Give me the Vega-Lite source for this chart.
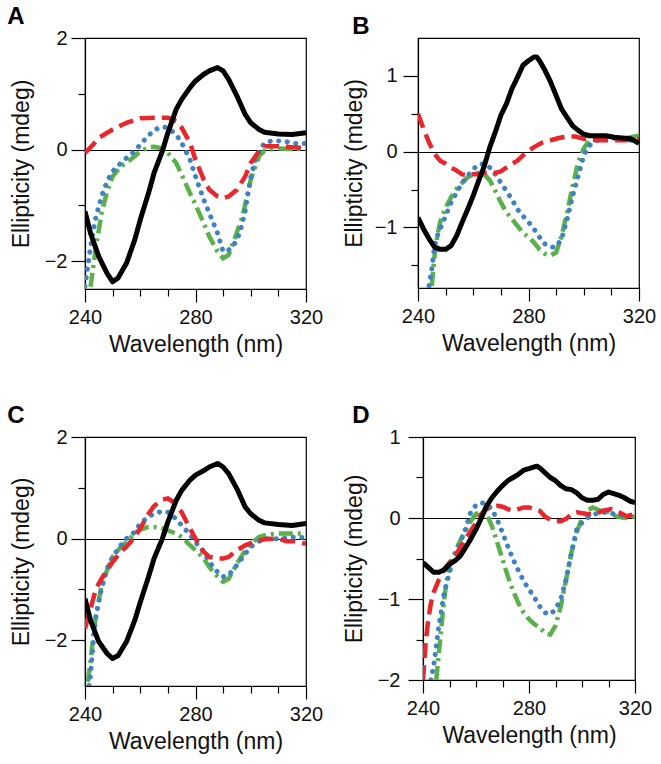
{
  "$schema": "https://vega.github.io/schema/vega-lite/v6.json",
  "padding": {"left": 6, "top": 4, "right": 0, "bottom": 0},
  "background": "white",
  "config": {
    "font": "Liberation Sans",
    "view": {"stroke": "black", "strokeWidth": 1.2},
    "axis": {"grid": false, "domainColor": "black", "domainWidth": 1.2, "tickColor": "black", "tickWidth": 1.2, "labelColor": "#111", "titleColor": "#111", "labelFontSize": 20, "titleFontSize": 23, "titleFontWeight": "normal", "labelFlush": false, "labelOverlap": false},
    "title": {"fontSize": 24, "fontWeight": "bold", "color": "black", "anchor": "start"}
  },
  "datasets": {
    "A": [
      {"s":"k","x":240,"y":-1.11},{"s":"k","x":242,"y":-1.5},{"s":"k","x":245,"y":-1.92},{"s":"k","x":248,"y":-2.22},{"s":"k","x":250,"y":-2.37},{"s":"k","x":252,"y":-2.3},{"s":"k","x":255,"y":-2.04},{"s":"k","x":258,"y":-1.62},{"s":"k","x":260,"y":-1.26},{"s":"k","x":263,"y":-0.78},{"s":"k","x":265,"y":-0.42},{"s":"k","x":268,"y":-0.03},{"s":"k","x":270,"y":0.3},{"s":"k","x":273,"y":0.72},{"s":"k","x":275,"y":0.9},{"s":"k","x":278,"y":1.11},{"s":"k","x":280,"y":1.23},{"s":"k","x":283,"y":1.35},{"s":"k","x":285,"y":1.41},{"s":"k","x":288,"y":1.47},{"s":"k","x":290,"y":1.41},{"s":"k","x":292,"y":1.26},{"s":"k","x":295,"y":0.96},{"s":"k","x":298,"y":0.63},{"s":"k","x":300,"y":0.48},{"s":"k","x":303,"y":0.36},{"s":"k","x":305,"y":0.31},{"s":"k","x":310,"y":0.28},{"s":"k","x":315,"y":0.27},{"s":"k","x":320,"y":0.3},
      {"s":"r","x":240,"y":-0.06},{"s":"r","x":243,"y":0.09},{"s":"r","x":245,"y":0.21},{"s":"r","x":250,"y":0.36},{"s":"r","x":255,"y":0.48},{"s":"r","x":260,"y":0.56},{"s":"r","x":265,"y":0.57},{"s":"r","x":270,"y":0.57},{"s":"r","x":273,"y":0.51},{"s":"r","x":275,"y":0.39},{"s":"r","x":278,"y":0.12},{"s":"r","x":280,"y":-0.18},{"s":"r","x":283,"y":-0.54},{"s":"r","x":285,"y":-0.72},{"s":"r","x":288,"y":-0.84},{"s":"r","x":290,"y":-0.87},{"s":"r","x":292,"y":-0.84},{"s":"r","x":295,"y":-0.72},{"s":"r","x":298,"y":-0.48},{"s":"r","x":300,"y":-0.24},{"s":"r","x":303,"y":-0.03},{"s":"r","x":305,"y":0.06},{"s":"r","x":310,"y":0.06},{"s":"r","x":315,"y":0.04},{"s":"r","x":320,"y":0.03},
      {"s":"b","x":240,"y":-2.45},{"s":"b","x":241,"y":-2.1},{"s":"b","x":242,"y":-1.75},{"s":"b","x":243,"y":-1.45},{"s":"b","x":244,"y":-1.2},{"s":"b","x":246,"y":-0.84},{"s":"b","x":248,"y":-0.57},{"s":"b","x":250,"y":-0.39},{"s":"b","x":253,"y":-0.24},{"s":"b","x":255,"y":-0.15},{"s":"b","x":258,"y":-0.03},{"s":"b","x":260,"y":0.09},{"s":"b","x":263,"y":0.25},{"s":"b","x":265,"y":0.35},{"s":"b","x":268,"y":0.41},{"s":"b","x":270,"y":0.39},{"s":"b","x":273,"y":0.27},{"s":"b","x":275,"y":0.12},{"s":"b","x":278,"y":-0.18},{"s":"b","x":280,"y":-0.48},{"s":"b","x":283,"y":-0.9},{"s":"b","x":285,"y":-1.14},{"s":"b","x":288,"y":-1.5},{"s":"b","x":290,"y":-1.83},{"s":"b","x":292,"y":-1.8},{"s":"b","x":294,"y":-1.7},{"s":"b","x":296,"y":-1.5},{"s":"b","x":298,"y":-1.1},{"s":"b","x":300,"y":-0.5},{"s":"b","x":302,"y":-0.12},{"s":"b","x":305,"y":0.12},{"s":"b","x":308,"y":0.16},{"s":"b","x":312,"y":0.15},{"s":"b","x":316,"y":0.11},{"s":"b","x":320,"y":0.11},
      {"s":"g","x":242,"y":-2.46},{"s":"g","x":243,"y":-2.1},{"s":"g","x":244,"y":-1.74},{"s":"g","x":246,"y":-1.14},{"s":"g","x":248,"y":-0.75},{"s":"g","x":250,"y":-0.48},{"s":"g","x":253,"y":-0.3},{"s":"g","x":255,"y":-0.24},{"s":"g","x":258,"y":-0.12},{"s":"g","x":260,"y":-0.03},{"s":"g","x":263,"y":0.04},{"s":"g","x":265,"y":0.05},{"s":"g","x":268,"y":0.02},{"s":"g","x":270,"y":-0.06},{"s":"g","x":273,"y":-0.24},{"s":"g","x":275,"y":-0.45},{"s":"g","x":278,"y":-0.78},{"s":"g","x":280,"y":-0.99},{"s":"g","x":283,"y":-1.32},{"s":"g","x":285,"y":-1.56},{"s":"g","x":288,"y":-1.83},{"s":"g","x":290,"y":-1.95},{"s":"g","x":292,"y":-1.89},{"s":"g","x":294,"y":-1.62},{"s":"g","x":297,"y":-1.2},{"s":"g","x":300,"y":-0.54},{"s":"g","x":303,"y":-0.12},{"s":"g","x":305,"y":-0.02},{"s":"g","x":307,"y":0},{"s":"g","x":310,"y":0.02},{"s":"g","x":315,"y":0.01},{"s":"g","x":320,"y":0.01}
    ],
    "B": [
      {"s":"k","x":240,"y":-0.87},{"s":"k","x":242,"y":-1.02},{"s":"k","x":244,"y":-1.15},{"s":"k","x":246,"y":-1.26},{"s":"k","x":248,"y":-1.29},{"s":"k","x":250,"y":-1.29},{"s":"k","x":252,"y":-1.24},{"s":"k","x":254,"y":-1.11},{"s":"k","x":256,"y":-0.93},{"s":"k","x":258,"y":-0.76},{"s":"k","x":260,"y":-0.58},{"s":"k","x":262,"y":-0.38},{"s":"k","x":264,"y":-0.19},{"s":"k","x":266,"y":0.06},{"s":"k","x":268,"y":0.26},{"s":"k","x":270,"y":0.48},{"s":"k","x":272,"y":0.63},{"s":"k","x":274,"y":0.83},{"s":"k","x":276,"y":0.98},{"s":"k","x":278,"y":1.14},{"s":"k","x":280,"y":1.2},{"s":"k","x":282,"y":1.25},{"s":"k","x":283,"y":1.25},{"s":"k","x":284,"y":1.2},{"s":"k","x":286,"y":1.07},{"s":"k","x":288,"y":0.92},{"s":"k","x":290,"y":0.74},{"s":"k","x":292,"y":0.56},{"s":"k","x":294,"y":0.45},{"s":"k","x":296,"y":0.34},{"s":"k","x":298,"y":0.28},{"s":"k","x":300,"y":0.23},{"s":"k","x":302,"y":0.21},{"s":"k","x":305,"y":0.21},{"s":"k","x":308,"y":0.21},{"s":"k","x":311,"y":0.19},{"s":"k","x":314,"y":0.18},{"s":"k","x":317,"y":0.17},{"s":"k","x":320,"y":0.11},
      {"s":"r","x":240,"y":0.5},{"s":"r","x":242,"y":0.3},{"s":"r","x":244,"y":0.12},{"s":"r","x":246,"y":-0.03},{"s":"r","x":248,"y":-0.12},{"s":"r","x":250,"y":-0.16},{"s":"r","x":252,"y":-0.21},{"s":"r","x":254,"y":-0.25},{"s":"r","x":256,"y":-0.3},{"s":"r","x":258,"y":-0.31},{"s":"r","x":260,"y":-0.3},{"s":"r","x":262,"y":-0.3},{"s":"r","x":264,"y":-0.28},{"s":"r","x":266,"y":-0.28},{"s":"r","x":268,"y":-0.28},{"s":"r","x":270,"y":-0.26},{"s":"r","x":272,"y":-0.21},{"s":"r","x":274,"y":-0.16},{"s":"r","x":276,"y":-0.12},{"s":"r","x":278,"y":-0.05},{"s":"r","x":280,"y":0.01},{"s":"r","x":282,"y":0.06},{"s":"r","x":285,"y":0.12},{"s":"r","x":288,"y":0.15},{"s":"r","x":291,"y":0.18},{"s":"r","x":294,"y":0.2},{"s":"r","x":297,"y":0.2},{"s":"r","x":300,"y":0.17},{"s":"r","x":305,"y":0.15},{"s":"r","x":310,"y":0.15},{"s":"r","x":315,"y":0.15},{"s":"r","x":320,"y":0.17},
      {"s":"b","x":244,"y":-1.77},{"s":"b","x":245,"y":-1.55},{"s":"b","x":246,"y":-1.24},{"s":"b","x":247,"y":-1.11},{"s":"b","x":248,"y":-1.02},{"s":"b","x":250,"y":-0.85},{"s":"b","x":252,"y":-0.67},{"s":"b","x":254,"y":-0.54},{"s":"b","x":256,"y":-0.41},{"s":"b","x":258,"y":-0.32},{"s":"b","x":260,"y":-0.23},{"s":"b","x":262,"y":-0.17},{"s":"b","x":264,"y":-0.16},{"s":"b","x":266,"y":-0.21},{"s":"b","x":268,"y":-0.3},{"s":"b","x":270,"y":-0.41},{"s":"b","x":272,"y":-0.52},{"s":"b","x":274,"y":-0.63},{"s":"b","x":276,"y":-0.76},{"s":"b","x":278,"y":-0.85},{"s":"b","x":280,"y":-0.93},{"s":"b","x":282,"y":-1.02},{"s":"b","x":284,"y":-1.13},{"s":"b","x":286,"y":-1.22},{"s":"b","x":288,"y":-1.26},{"s":"b","x":290,"y":-1.26},{"s":"b","x":292,"y":-1.15},{"s":"b","x":294,"y":-0.89},{"s":"b","x":296,"y":-0.58},{"s":"b","x":298,"y":-0.32},{"s":"b","x":300,"y":-0.05},{"s":"b","x":302,"y":0.08},{"s":"b","x":304,"y":0.13},{"s":"b","x":306,"y":0.17},{"s":"b","x":310,"y":0.18},{"s":"b","x":314,"y":0.17},{"s":"b","x":317,"y":0.15},{"s":"b","x":320,"y":0.18},
      {"s":"g","x":245,"y":-1.77},{"s":"g","x":246,"y":-1.37},{"s":"g","x":247,"y":-1.11},{"s":"g","x":248,"y":-0.93},{"s":"g","x":250,"y":-0.74},{"s":"g","x":252,"y":-0.6},{"s":"g","x":254,"y":-0.49},{"s":"g","x":256,"y":-0.41},{"s":"g","x":258,"y":-0.34},{"s":"g","x":260,"y":-0.3},{"s":"g","x":262,"y":-0.28},{"s":"g","x":264,"y":-0.3},{"s":"g","x":266,"y":-0.38},{"s":"g","x":268,"y":-0.52},{"s":"g","x":270,"y":-0.67},{"s":"g","x":272,"y":-0.8},{"s":"g","x":274,"y":-0.89},{"s":"g","x":276,"y":-0.98},{"s":"g","x":278,"y":-1.07},{"s":"g","x":280,"y":-1.13},{"s":"g","x":282,"y":-1.2},{"s":"g","x":284,"y":-1.29},{"s":"g","x":286,"y":-1.35},{"s":"g","x":288,"y":-1.37},{"s":"g","x":290,"y":-1.33},{"s":"g","x":292,"y":-1.11},{"s":"g","x":294,"y":-0.8},{"s":"g","x":296,"y":-0.45},{"s":"g","x":298,"y":-0.14},{"s":"g","x":300,"y":0.04},{"s":"g","x":302,"y":0.15},{"s":"g","x":304,"y":0.19},{"s":"g","x":306,"y":0.21},{"s":"g","x":310,"y":0.2},{"s":"g","x":314,"y":0.17},{"s":"g","x":317,"y":0.19},{"s":"g","x":320,"y":0.21}
    ],
    "C": [
      {"s":"k","x":240,"y":-1.18},{"s":"k","x":242,"y":-1.61},{"s":"k","x":245,"y":-2.03},{"s":"k","x":248,"y":-2.26},{"s":"k","x":250,"y":-2.36},{"s":"k","x":252,"y":-2.3},{"s":"k","x":255,"y":-2.03},{"s":"k","x":258,"y":-1.61},{"s":"k","x":260,"y":-1.25},{"s":"k","x":263,"y":-0.75},{"s":"k","x":265,"y":-0.39},{"s":"k","x":268,"y":0},{"s":"k","x":270,"y":0.33},{"s":"k","x":273,"y":0.75},{"s":"k","x":275,"y":0.95},{"s":"k","x":278,"y":1.15},{"s":"k","x":280,"y":1.25},{"s":"k","x":283,"y":1.34},{"s":"k","x":285,"y":1.41},{"s":"k","x":288,"y":1.48},{"s":"k","x":290,"y":1.41},{"s":"k","x":292,"y":1.28},{"s":"k","x":295,"y":0.98},{"s":"k","x":298,"y":0.62},{"s":"k","x":300,"y":0.49},{"s":"k","x":303,"y":0.36},{"s":"k","x":305,"y":0.31},{"s":"k","x":310,"y":0.28},{"s":"k","x":315,"y":0.26},{"s":"k","x":320,"y":0.3},
      {"s":"r","x":240,"y":-1.77},{"s":"r","x":242,"y":-1.38},{"s":"r","x":244,"y":-0.98},{"s":"r","x":246,"y":-0.79},{"s":"r","x":248,"y":-0.62},{"s":"r","x":250,"y":-0.46},{"s":"r","x":253,"y":-0.26},{"s":"r","x":255,"y":-0.16},{"s":"r","x":258,"y":0.03},{"s":"r","x":260,"y":0.2},{"s":"r","x":263,"y":0.49},{"s":"r","x":265,"y":0.64},{"s":"r","x":268,"y":0.77},{"s":"r","x":270,"y":0.79},{"s":"r","x":272,"y":0.72},{"s":"r","x":275,"y":0.52},{"s":"r","x":278,"y":0.2},{"s":"r","x":280,"y":0},{"s":"r","x":283,"y":-0.26},{"s":"r","x":285,"y":-0.36},{"s":"r","x":288,"y":-0.39},{"s":"r","x":290,"y":-0.39},{"s":"r","x":292,"y":-0.36},{"s":"r","x":295,"y":-0.23},{"s":"r","x":298,"y":-0.13},{"s":"r","x":300,"y":-0.09},{"s":"r","x":305,"y":-0.01},{"s":"r","x":310,"y":0},{"s":"r","x":313,"y":-0.05},{"s":"r","x":316,"y":-0.05},{"s":"r","x":320,"y":-0.1},
      {"s":"b","x":241.5,"y":-2.89},{"s":"b","x":242,"y":-2.69},{"s":"b","x":243,"y":-2.03},{"s":"b","x":244,"y":-1.51},{"s":"b","x":246,"y":-0.98},{"s":"b","x":248,"y":-0.59},{"s":"b","x":250,"y":-0.36},{"s":"b","x":253,"y":-0.13},{"s":"b","x":255,"y":0},{"s":"b","x":258,"y":0.13},{"s":"b","x":260,"y":0.3},{"s":"b","x":263,"y":0.43},{"s":"b","x":265,"y":0.49},{"s":"b","x":268,"y":0.54},{"s":"b","x":270,"y":0.52},{"s":"b","x":273,"y":0.39},{"s":"b","x":275,"y":0.26},{"s":"b","x":278,"y":0.08},{"s":"b","x":280,"y":-0.07},{"s":"b","x":283,"y":-0.26},{"s":"b","x":285,"y":-0.46},{"s":"b","x":288,"y":-0.66},{"s":"b","x":290,"y":-0.75},{"s":"b","x":292,"y":-0.72},{"s":"b","x":295,"y":-0.52},{"s":"b","x":298,"y":-0.3},{"s":"b","x":300,"y":-0.16},{"s":"b","x":303,"y":-0.05},{"s":"b","x":306,"y":0},{"s":"b","x":310,"y":0},{"s":"b","x":315,"y":0.03},{"s":"b","x":320,"y":0.02},
      {"s":"g","x":241,"y":-2.82},{"s":"g","x":242,"y":-2.43},{"s":"g","x":243,"y":-1.9},{"s":"g","x":244,"y":-1.51},{"s":"g","x":246,"y":-0.92},{"s":"g","x":248,"y":-0.62},{"s":"g","x":250,"y":-0.36},{"s":"g","x":253,"y":-0.16},{"s":"g","x":255,"y":-0.07},{"s":"g","x":258,"y":0.1},{"s":"g","x":260,"y":0.18},{"s":"g","x":263,"y":0.23},{"s":"g","x":265,"y":0.23},{"s":"g","x":268,"y":0.2},{"s":"g","x":270,"y":0.16},{"s":"g","x":273,"y":0.1},{"s":"g","x":275,"y":0.03},{"s":"g","x":278,"y":-0.13},{"s":"g","x":280,"y":-0.23},{"s":"g","x":283,"y":-0.39},{"s":"g","x":285,"y":-0.56},{"s":"g","x":288,"y":-0.75},{"s":"g","x":290,"y":-0.85},{"s":"g","x":292,"y":-0.79},{"s":"g","x":295,"y":-0.49},{"s":"g","x":298,"y":-0.23},{"s":"g","x":300,"y":-0.1},{"s":"g","x":303,"y":0.03},{"s":"g","x":306,"y":0.08},{"s":"g","x":310,"y":0.1},{"s":"g","x":315,"y":0.1},{"s":"g","x":320,"y":0.1}
    ],
    "D": [
      {"s":"k","x":240,"y":-0.55},{"s":"k","x":242,"y":-0.61},{"s":"k","x":244,"y":-0.67},{"s":"k","x":246,"y":-0.67},{"s":"k","x":248,"y":-0.64},{"s":"k","x":250,"y":-0.57},{"s":"k","x":252,"y":-0.53},{"s":"k","x":254,"y":-0.47},{"s":"k","x":256,"y":-0.37},{"s":"k","x":258,"y":-0.26},{"s":"k","x":260,"y":-0.14},{"s":"k","x":262,"y":0},{"s":"k","x":264,"y":0.15},{"s":"k","x":266,"y":0.25},{"s":"k","x":268,"y":0.33},{"s":"k","x":270,"y":0.4},{"s":"k","x":272,"y":0.46},{"s":"k","x":274,"y":0.5},{"s":"k","x":276,"y":0.54},{"s":"k","x":278,"y":0.59},{"s":"k","x":280,"y":0.61},{"s":"k","x":282,"y":0.63},{"s":"k","x":283,"y":0.64},{"s":"k","x":284,"y":0.62},{"s":"k","x":286,"y":0.56},{"s":"k","x":288,"y":0.5},{"s":"k","x":290,"y":0.46},{"s":"k","x":292,"y":0.4},{"s":"k","x":294,"y":0.36},{"s":"k","x":296,"y":0.35},{"s":"k","x":298,"y":0.31},{"s":"k","x":300,"y":0.25},{"s":"k","x":302,"y":0.22},{"s":"k","x":304,"y":0.22},{"s":"k","x":306,"y":0.23},{"s":"k","x":308,"y":0.29},{"s":"k","x":310,"y":0.32},{"s":"k","x":312,"y":0.3},{"s":"k","x":314,"y":0.28},{"s":"k","x":316,"y":0.25},{"s":"k","x":318,"y":0.21},{"s":"k","x":320,"y":0.19},
      {"s":"r","x":240,"y":-2},{"s":"r","x":241,"y":-1.54},{"s":"r","x":242,"y":-1.25},{"s":"r","x":243,"y":-1.05},{"s":"r","x":244,"y":-0.92},{"s":"r","x":246,"y":-0.76},{"s":"r","x":248,"y":-0.63},{"s":"r","x":250,"y":-0.55},{"s":"r","x":252,"y":-0.47},{"s":"r","x":254,"y":-0.37},{"s":"r","x":256,"y":-0.26},{"s":"r","x":258,"y":-0.16},{"s":"r","x":260,"y":-0.06},{"s":"r","x":262,"y":0.05},{"s":"r","x":264,"y":0.11},{"s":"r","x":266,"y":0.14},{"s":"r","x":268,"y":0.15},{"s":"r","x":270,"y":0.14},{"s":"r","x":272,"y":0.11},{"s":"r","x":274,"y":0.09},{"s":"r","x":276,"y":0.11},{"s":"r","x":278,"y":0.13},{"s":"r","x":280,"y":0.13},{"s":"r","x":282,"y":0.11},{"s":"r","x":284,"y":0.09},{"s":"r","x":286,"y":0.02},{"s":"r","x":288,"y":-0.02},{"s":"r","x":290,"y":-0.04},{"s":"r","x":292,"y":-0.04},{"s":"r","x":294,"y":-0.01},{"s":"r","x":296,"y":0.05},{"s":"r","x":298,"y":0.07},{"s":"r","x":300,"y":0.06},{"s":"r","x":302,"y":0.05},{"s":"r","x":305,"y":0.05},{"s":"r","x":308,"y":0.09},{"s":"r","x":311,"y":0.11},{"s":"r","x":314,"y":0.07},{"s":"r","x":317,"y":0.02},{"s":"r","x":320,"y":0.05},
      {"s":"b","x":243,"y":-2},{"s":"b","x":244,"y":-1.83},{"s":"b","x":245,"y":-1.58},{"s":"b","x":246,"y":-1.33},{"s":"b","x":247,"y":-1.13},{"s":"b","x":248,"y":-0.92},{"s":"b","x":250,"y":-0.67},{"s":"b","x":252,"y":-0.47},{"s":"b","x":254,"y":-0.3},{"s":"b","x":256,"y":-0.14},{"s":"b","x":258,"y":0.07},{"s":"b","x":260,"y":0.16},{"s":"b","x":262,"y":0.19},{"s":"b","x":264,"y":0.17},{"s":"b","x":266,"y":0.11},{"s":"b","x":268,"y":-0.02},{"s":"b","x":270,"y":-0.18},{"s":"b","x":272,"y":-0.35},{"s":"b","x":274,"y":-0.51},{"s":"b","x":276,"y":-0.65},{"s":"b","x":278,"y":-0.78},{"s":"b","x":280,"y":-0.88},{"s":"b","x":282,"y":-0.98},{"s":"b","x":284,"y":-1.09},{"s":"b","x":286,"y":-1.17},{"s":"b","x":288,"y":-1.19},{"s":"b","x":290,"y":-1.13},{"s":"b","x":292,"y":-1.0},{"s":"b","x":294,"y":-0.76},{"s":"b","x":296,"y":-0.43},{"s":"b","x":298,"y":-0.14},{"s":"b","x":300,"y":-0.06},{"s":"b","x":302,"y":0},{"s":"b","x":305,"y":0.05},{"s":"b","x":308,"y":0.07},{"s":"b","x":311,"y":0.06},{"s":"b","x":314,"y":0.03},{"s":"b","x":317,"y":0.02},{"s":"b","x":320,"y":0.05},
      {"s":"g","x":245,"y":-2},{"s":"g","x":246,"y":-1.66},{"s":"g","x":247,"y":-1.33},{"s":"g","x":248,"y":-1.0},{"s":"g","x":249,"y":-0.76},{"s":"g","x":250,"y":-0.59},{"s":"g","x":252,"y":-0.43},{"s":"g","x":254,"y":-0.28},{"s":"g","x":256,"y":-0.16},{"s":"g","x":258,"y":-0.04},{"s":"g","x":260,"y":0.05},{"s":"g","x":262,"y":0.09},{"s":"g","x":264,"y":0.05},{"s":"g","x":266,"y":-0.1},{"s":"g","x":268,"y":-0.3},{"s":"g","x":270,"y":-0.51},{"s":"g","x":272,"y":-0.72},{"s":"g","x":274,"y":-0.9},{"s":"g","x":276,"y":-1.05},{"s":"g","x":278,"y":-1.17},{"s":"g","x":280,"y":-1.25},{"s":"g","x":282,"y":-1.31},{"s":"g","x":284,"y":-1.35},{"s":"g","x":286,"y":-1.42},{"s":"g","x":288,"y":-1.44},{"s":"g","x":290,"y":-1.33},{"s":"g","x":292,"y":-1.09},{"s":"g","x":294,"y":-0.76},{"s":"g","x":296,"y":-0.43},{"s":"g","x":298,"y":-0.18},{"s":"g","x":300,"y":0},{"s":"g","x":302,"y":0.09},{"s":"g","x":304,"y":0.13},{"s":"g","x":307,"y":0.09},{"s":"g","x":310,"y":0.07},{"s":"g","x":313,"y":0.02},{"s":"g","x":316,"y":0},{"s":"g","x":320,"y":0.02}
    ]
  },
  "vconcat": [
    {
      "hconcat": [
        {
          "data": {"name": "A"},
          "width": 221, "height": 251,
          "title": {"text": "A", "offset": -1, "dx": -3},
          "encoding": {
            "x": {"field": "x", "type": "quantitative", "scale": {"domain": [240, 320], "nice": false, "zero": false},
              "axis": {"title": "Wavelength (nm)", "values": [240,250,260,270,280,290,300,310,320], "labelExpr": "datum.value % 40 === 0 ? datum.label : ''", "tickSize": {"condition": {"test": "datum.value % 40 === 0", "value": 13}, "value": 7}, "labelPadding": 5, "titlePadding": 6}},
            "y": {"field": "y", "type": "quantitative", "scale": {"domain": [-2.5, 2], "nice": false, "zero": false},
              "axis": {"title": "Ellipticity (mdeg)", "format": ".1~f", "values": [-2,-1,0,1,2], "labelExpr": "datum.value % 2 === 0 ? datum.label : ''", "tickSize": {"condition": {"test": "datum.value % 2 === 0", "value": 14}, "value": 7}, "grid": true, "gridColor": "black", "gridWidth": 1.2, "gridOpacity": {"condition": {"test": "datum.value === 0", "value": 1}, "value": 0}, "labelPadding": 4, "titlePadding": 11}}
          },
          "layer": [
            {"transform": [{"filter": "datum.s === 'g'"}], "mark": {"type": "line", "color": "#5ab14a", "strokeWidth": 4.5, "strokeDash": [14, 5, 3, 5], "clip": true}, "encoding": {}},
            {"transform": [{"filter": "datum.s === 'b'"}], "mark": {"type": "line", "color": "#3c82c4", "strokeWidth": 5, "strokeCap": "round", "strokeDash": [0.1, 8.5], "clip": true}, "encoding": {}},
            {"transform": [{"filter": "datum.s === 'r'"}], "mark": {"type": "line", "color": "#e8262b", "strokeWidth": 4.5, "strokeDash": [15, 7], "clip": true}, "encoding": {}},
            {"transform": [{"filter": "datum.s === 'k'"}], "mark": {"type": "line", "color": "black", "strokeWidth": 5, "strokeJoin": "round", "clip": true}, "encoding": {}}
          ]
        },
        {
          "data": {"name": "B"},
          "width": 221, "height": 250,
          "title": {"text": "B", "offset": -1, "dx": 9},
          "encoding": {
            "x": {"field": "x", "type": "quantitative", "scale": {"domain": [240, 320], "nice": false, "zero": false},
              "axis": {"title": "Wavelength (nm)", "values": [240,250,260,270,280,290,300,310,320], "labelExpr": "datum.value % 40 === 0 ? datum.label : ''", "tickSize": {"condition": {"test": "datum.value % 40 === 0", "value": 13}, "value": 7}, "labelPadding": 5, "titlePadding": 6}},
            "y": {"field": "y", "type": "quantitative", "scale": {"domain": [-1.8, 1.5], "nice": false, "zero": false},
              "axis": {"title": "Ellipticity (mdeg)", "format": ".1~f", "values": [-1.5,-1,-0.5,0,0.5,1], "labelExpr": "datum.value % 1 === 0 ? datum.label : ''", "tickSize": {"condition": {"test": "datum.value % 1 === 0", "value": 15}, "value": 7}, "grid": true, "gridColor": "black", "gridWidth": 1.2, "gridOpacity": {"condition": {"test": "datum.value === 0", "value": 1}, "value": 0}, "labelPadding": 6, "titlePadding": 8}}
          },
          "layer": [
            {"transform": [{"filter": "datum.s === 'g'"}], "mark": {"type": "line", "color": "#5ab14a", "strokeWidth": 4.5, "strokeDash": [14, 5, 3, 5], "clip": true}, "encoding": {}},
            {"transform": [{"filter": "datum.s === 'b'"}], "mark": {"type": "line", "color": "#3c82c4", "strokeWidth": 5, "strokeCap": "round", "strokeDash": [0.1, 8.5], "clip": true}, "encoding": {}},
            {"transform": [{"filter": "datum.s === 'r'"}], "mark": {"type": "line", "color": "#e8262b", "strokeWidth": 4.5, "strokeDash": [15, 7], "clip": true}, "encoding": {}},
            {"transform": [{"filter": "datum.s === 'k'"}], "mark": {"type": "line", "color": "black", "strokeWidth": 5, "strokeJoin": "round", "clip": true}, "encoding": {}}
          ]
        }
      ],
      "spacing": 18
    },
    {
      "hconcat": [
        {
          "data": {"name": "C"},
          "width": 221, "height": 249,
          "title": {"text": "C", "offset": -1, "dx": -3},
          "encoding": {
            "x": {"field": "x", "type": "quantitative", "scale": {"domain": [240, 320], "nice": false, "zero": false},
              "axis": {"title": "Wavelength (nm)", "values": [240,250,260,270,280,290,300,310,320], "labelExpr": "datum.value % 40 === 0 ? datum.label : ''", "tickSize": {"condition": {"test": "datum.value % 40 === 0", "value": 13}, "value": 7}, "labelPadding": 5, "titlePadding": 6}},
            "y": {"field": "y", "type": "quantitative", "scale": {"domain": [-2.9, 2], "nice": false, "zero": false},
              "axis": {"title": "Ellipticity (mdeg)", "format": ".1~f", "values": [-2,-1,0,1,2], "labelExpr": "datum.value % 2 === 0 ? datum.label : ''", "tickSize": {"condition": {"test": "datum.value % 2 === 0", "value": 14}, "value": 7}, "grid": true, "gridColor": "black", "gridWidth": 1.2, "gridOpacity": {"condition": {"test": "datum.value === 0", "value": 1}, "value": 0}, "labelPadding": 4, "titlePadding": 11}}
          },
          "layer": [
            {"transform": [{"filter": "datum.s === 'g'"}], "mark": {"type": "line", "color": "#5ab14a", "strokeWidth": 4.5, "strokeDash": [14, 5, 3, 5], "clip": true}, "encoding": {}},
            {"transform": [{"filter": "datum.s === 'b'"}], "mark": {"type": "line", "color": "#3c82c4", "strokeWidth": 5, "strokeCap": "round", "strokeDash": [0.1, 8.5], "clip": true}, "encoding": {}},
            {"transform": [{"filter": "datum.s === 'r'"}], "mark": {"type": "line", "color": "#e8262b", "strokeWidth": 4.5, "strokeDash": [15, 7], "clip": true}, "encoding": {}},
            {"transform": [{"filter": "datum.s === 'k'"}], "mark": {"type": "line", "color": "black", "strokeWidth": 5, "strokeJoin": "round", "clip": true}, "encoding": {}}
          ]
        },
        {
          "data": {"name": "D"},
          "width": 212, "height": 243,
          "title": {"text": "D", "offset": -1, "dx": 9},
          "encoding": {
            "x": {"field": "x", "type": "quantitative", "scale": {"domain": [240, 320], "nice": false, "zero": false},
              "axis": {"title": "Wavelength (nm)", "values": [240,250,260,270,280,290,300,310,320], "labelExpr": "datum.value % 40 === 0 ? datum.label : ''", "tickSize": {"condition": {"test": "datum.value % 40 === 0", "value": 13}, "value": 7}, "labelPadding": 5, "titlePadding": 6}},
            "y": {"field": "y", "type": "quantitative", "scale": {"domain": [-2, 1], "nice": false, "zero": false},
              "axis": {"title": "Ellipticity (mdeg)", "format": ".1~f", "values": [-2,-1.5,-1,-0.5,0,0.5,1], "labelExpr": "datum.value % 1 === 0 ? datum.label : ''", "tickSize": {"condition": {"test": "datum.value % 1 === 0", "value": 15}, "value": 7}, "grid": true, "gridColor": "black", "gridWidth": 1.2, "gridOpacity": {"condition": {"test": "datum.value === 0", "value": 1}, "value": 0}, "labelPadding": 8, "titlePadding": 11}}
          },
          "layer": [
            {"transform": [{"filter": "datum.s === 'g'"}], "mark": {"type": "line", "color": "#5ab14a", "strokeWidth": 4.5, "strokeDash": [14, 5, 3, 5], "clip": true}, "encoding": {}},
            {"transform": [{"filter": "datum.s === 'b'"}], "mark": {"type": "line", "color": "#3c82c4", "strokeWidth": 5, "strokeCap": "round", "strokeDash": [0.1, 8.5], "clip": true}, "encoding": {}},
            {"transform": [{"filter": "datum.s === 'r'"}], "mark": {"type": "line", "color": "#e8262b", "strokeWidth": 4.5, "strokeDash": [15, 7], "clip": true}, "encoding": {}},
            {"transform": [{"filter": "datum.s === 'k'"}], "mark": {"type": "line", "color": "black", "strokeWidth": 5, "strokeJoin": "round", "clip": true}, "encoding": {}}
          ]
        }
      ],
      "spacing": 18
    }
  ],
  "spacing": 46
}
